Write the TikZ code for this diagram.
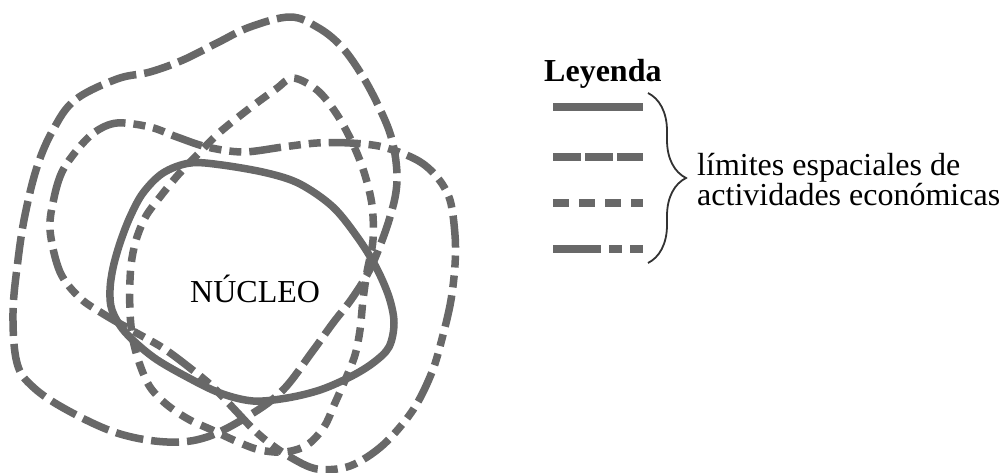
\documentclass[tikz,border=0pt]{standalone}
\usepackage{fontspec}
\setmainfont{Liberation Serif}
\usetikzlibrary{decorations.pathreplacing}
\definecolor{limgray}{RGB}{104,104,104}
\definecolor{bracegray}{RGB}{50,50,50}
\tikzset{
  limbase/.style={draw=limgray, line width=7.5pt, line join=round},
  limsolid/.style={limbase},
  limlong/.style={limbase, dash pattern=on 28pt off 8pt},
  limshort/.style={limbase, dash pattern=on 14pt off 9pt},
  limdd/.style={limbase, dash pattern=on 32pt off 8pt on 12pt off 8pt on 12pt off 8pt},
  leglong/.style={limbase, dash pattern=on 28pt off 4pt},
  legshort/.style={limbase, dash pattern=on 16pt off 10pt},
  legdd/.style={limbase, dash pattern=on 48pt off 8pt on 13pt off 8pt on 13pt off 8pt},
  txt/.style={inner sep=0pt, anchor=base west, font=\fontsize{32}{28}\selectfont},
}
\begin{document}
\begin{tikzpicture}[x=1pt, y=-1pt]
\useasboundingbox[fill=white] (0,0) rectangle (1001,473);

% curve A: outer, long dashes
\draw[limlong] plot[smooth cycle, tension=0.6] coordinates {
 (290,17) (317,27) (340,45) (360,72) (378,105) (392,140) (397,180) (390,217)
 (372,265) (353,297) (333,323) (312,352) (283,390) (250,415) (207,437) (167,442)
 (117,433) (67,410) (33,387) (17,363) (13,313) (18,260) (25,215) (37,167)
 (53,130) (75,100) (117,79) (150,72) (183,60) (217,43) (250,27)};

% curve B: short dashes
\draw[limshort] plot[smooth cycle, tension=0.55] coordinates {
 (293,78) (317,90) (336,113) (352,142) (364,172) (372,205) (373,240) (367,272)
 (363,300) (360,330) (355,355) (346,378) (335,403) (324,427) (307,445) (285,452)
 (260,450) (238,442) (212,430) (188,419) (166,404) (150,387) (140,365) (133,340)
 (130,313) (130,280) (132,258) (137,237) (146,216) (160,197) (178,175) (200,152)
 (220,132) (250,108) (276,89)};

% curve C: dash-dot-dot
\draw[limdd] plot[smooth cycle, tension=0.55] coordinates {
 (50,230) (54,198) (62,172) (77,150) (95,132) (117,123) (150,127) (177,137)
 (207,147) (243,152) (283,147) (317,143) (350,143) (383,147) (417,160) (437,177)
 (450,200) (455,235) (455,265) (451,300) (443,335) (432,372) (413,410) (383,445)
 (350,466) (317,469) (290,457) (268,442) (252,428) (235,410) (213,387) (190,368)
 (163,348) (133,331) (105,315) (80,298) (60,272)};

% solid core
\draw[limsolid] plot[smooth cycle, tension=0.55] coordinates {
 (190,163) (222,165) (267,173) (300,184) (333,207) (358,238) (376,267) (389,297)
 (394,323) (389,347) (373,363) (350,377) (320,390) (287,398) (253,401) (220,393)
 (187,377) (153,357) (125,332) (112,310) (110,290) (113,268) (120,243) (130,217)
 (143,193) (163,173)};

\node[txt] (nucleo) at (190,302) {NÚCLEO};

% legend
\node[txt, font=\bfseries\fontsize{32}{28}\selectfont] (leyenda) at (544,82) {Leyenda};
\coordinate (l1a) at (553,107); \coordinate (l1b) at (643,107);
\coordinate (l2a) at (553,157); \coordinate (l2b) at (643,157);
\coordinate (l3a) at (553,203); \coordinate (l3b) at (643,203);
\coordinate (l4a) at (553,249); \coordinate (l4b) at (643,249);
\draw[limsolid] (l1a) -- (l1b);
\draw[leglong] (l2a) -- (l2b);
\draw[legshort] (l3a) -- (l3b);
\draw[legdd] (l4a) -- (l4b);

\coordinate (bt) at (648,93);
\coordinate (bb) at (648,263);
\draw[bracegray, line width=1.8pt, decorate, decoration={brace, amplitude=38pt}] (bt) -- (bb);

\node[txt, align=left] (lim) at (697,205.5) {límites espaciales de\\actividades económicas};
\end{tikzpicture}
\end{document}
